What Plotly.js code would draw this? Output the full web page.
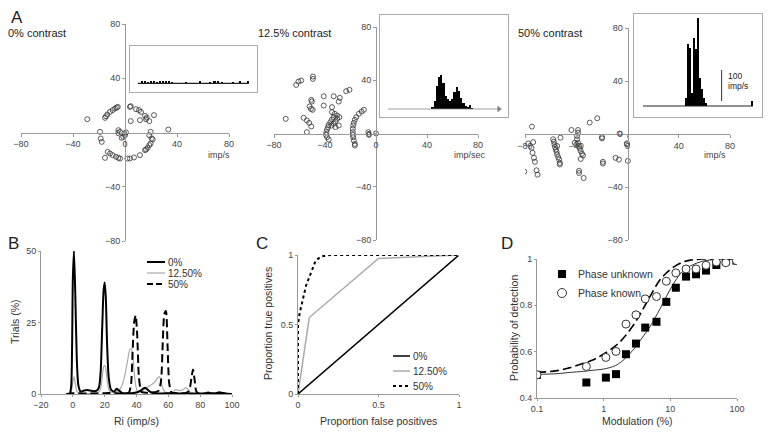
<!DOCTYPE html>
<html><head><meta charset="utf-8">
<script src="https://cdn.plot.ly/plotly-3.0.1.min.js"></script>
<style>html,body{margin:0;padding:0;background:#fff}#chart{width:769px;height:432px}</style>
</head><body><div id="chart"></div>
<script>
// ---------- DATA ----------
// Panel A scatter (imp/s)
const a1X = [-15.4,-14.6,-13.6,-11.5,-9.5,-7.7,-6.4,-5.6,-29,3.8,4.4,8.5,10.8,12.3,15.4,16.7,16.2,18.7,22.3,4.4,11.5,19.7,33.3,20.5,18.7,21.3,19.7,18.7,17.4,16.2,15.4,11.5,6.9,3.8,1.8,-13.3,-11.5,-9.5,-6.9,-5.1,-3.8,-15.4,-19.2,-18.7,-17.9,-5.1,-3.8,-0.5,-1.3,0,-2.6,0.8];
const a1Y = [10.8,12,13.3,15.2,16.5,17.7,18.4,18.9,9.8,18.9,19.4,17.2,16.5,15.2,12.3,11,9.8,8.4,12.8,8.4,9.1,0.5,2.2,-4.4,-2,-5.2,-8.1,-9.3,-11.3,-12.5,-13,-16.7,-18.4,-19.2,-19.2,-14.3,-15.5,-16.7,-17.9,-18.7,-19.2,-18.7,0.5,-4.4,-6.9,1.7,0.5,-0.7,-3.2,-2,-3.9,0];
const a2X = [-62.6,-60.8,-58.7,-49.5,-49.5,-50.8,-50.3,-52.1,-51,-49.7,-41,-33.2,-28.4,-29.2,-41,-34.5,-23.4,-20.8,-70.8,-56.8,-54.2,-52.4,-50.8,-54.2,-34.5,-32.4,-30.5,-28.7,-33.2,-34.5,-35.8,-37.1,-37.6,-38.4,-38.9,-39.2,-38.4,-37.1,-35,-33.2,-31.8,-30.5,-31.8,-29.2,-9.5,-11.3,-13.4,-15.5,-16.6,-17.4,-17.9,-18.2,-18.2,-18.2,-17.9,-17.4,-16.6,-16.6,-6,-5.5,0];
const a2Y = [36.5,39,39.8,42.8,41,25.3,24,20.3,18.5,17.8,28,28,26.8,24,21,19.8,31.8,32.8,11,11.8,9.8,8,5.3,1,16,14.8,13.5,12.3,12.3,10.5,8.5,6.5,4.8,3,1,-1,-2.8,-4.5,6,7.3,9,11,4.8,6,17.8,16.5,14.8,12.3,10.3,8,6,3.5,1,-1,-2.8,-5.3,-7.8,-9,1,-1,0];
const a3X = [-74.6,-43.8,-38.6,-29.5,-23.6,-77.5,-73.6,-74.9,-74.1,-73,-72.3,-80.6,-71,-70.2,-58,-57.5,-57,-56.5,-55.9,-55.4,-54.9,-54.1,-53.4,-52.8,-52.8,-54.9,-52.3,-39.4,-39.4,-38.6,-37.8,-37.3,-36.5,-35.5,-34.7,-39.9,-41.2,-36.5,-37.8,-37.8,-34.2,-38.6,-19.9,-19.9,-19.2,-19.2,-9.3,-6.7,-6.2,-0.5,-0.5,0.3];
const a3Y = [5.6,3,3,8.6,11.9,-7.1,-6.1,-10.4,-14.2,-18,-21,-28.4,-27.4,-30.7,-4,-5.8,-7.9,-9.9,-11.7,-13.5,-15.5,-17.5,-19.3,-21.8,-23,-9.1,-2.8,-1.5,-4,-6.6,-9.1,-10.9,-12.9,-15,-16.2,-7.9,-6.6,-18.8,-27.7,-29.4,-33.2,1,-2.3,-3.3,-21,-22.3,-18,-19.3,0.3,-7.1,-7.9,-20.3];
const aTicks = [-80,-40,0,40,80];

// Panel A insets (response histograms)
const h1Bin = [3.6,6.3,9,11.7,14.4,17,19.8,22.5,25,28,30.6,43,56,65,69,72,75.7,85.6,92,99];
const h1Cnt = [2,2,1.5,2,2,1.5,2,2,2.5,2,1.5,1.5,2,1.5,2.5,2,1.5,1.5,2,2.5];
const h2Bin = [40,42,44,46,48,50,52,54,56,58,60,62,64,66,68,70,72,74,76];
const h2Cnt = [2,8,23,32,34,26,13,10,8,10,17,22,18,11,6,3,2,4,1];
const h3Bin = [38.8,40.6,42.4,44.2,46.1,47.9,49.7,51.5,53.3,55.2,57,99];
const h3Cnt = [8,62,58,13,68,57,88,28,17,8,3,5];

// Panel B: distribution of Ri
const bX0 = [-4,-2,-1,0,0.7,1.5,2.5,3.5,5,7,9,11,13,15,16.5,17.5,18.5,19.3,20,20.7,21.5,22.5,24,26,27.5,29,31,34,37,40,42,44,45.5,47,49,52,56,60,65,70,75,80,83,85,87,90,92,94,97,100];
const bY0 = [0,0,3,40,50,36,12,3,0.8,1.2,1.4,1.2,1.0,1.2,2.5,8,24,36,39,34,18,6,1.5,0.8,1.8,1.2,0.4,0.3,0.3,0.5,1,1.8,2.2,1.5,0.6,0.3,0.2,0.3,0.2,0.2,0.2,0.2,0.3,0.5,0.3,0.3,0.6,0.4,0.1,0];
const bX1 = [-4,-2,-1,0,0.7,1.5,2.5,4,8,12,16,17.5,18.5,19.3,20,20.7,21.5,23,26,28,30,31.5,33,34.5,35.5,36.5,37.5,38.5,39.5,40.5,42,44,46,48,50,52,53.5,54.5,55.5,56.5,58,60,63,65,67,69,71,72.5,74,76,80];
const bY1 = [0,0,0.8,4,6,4,1,0.2,0.2,0.3,0.5,2,6,9.5,10,9,5,1,0.5,1,2,4,7.5,12,15,16,14,8,3,1,0.8,1.2,2,2.8,3.5,4.5,5.8,6,4.5,2,0.6,0.3,0.8,1.5,1.2,1.5,2.2,1.5,0.4,0,0];
const bX2 = [-4,0,5,10,15,20,25,30,33,35,36.5,37.5,38.5,39.5,40.5,41.5,43,45,48,51,54,55.5,56.5,57.5,58.5,59.5,60.5,62,65,68,71,72.5,73.5,74.5,75.5,76.5,77.5,79,82,90,100];
const bY2 = [0,0.3,0.2,0.2,0.2,0.3,0.3,0.2,0.2,0.3,3,14,25,27.5,20,6,0.8,0.5,0.4,0.5,1.2,5,18,28,29,17,4,0.5,0.3,0.3,0.4,0.8,2,5.5,8.6,5,1,0.2,0.1,0.1,0];
const bNames = ['0%','12.50%','50%'];

// Panel C: ROC curves
const cX0 = [0,1], cY0 = [0,1];
const cX1 = [0,0.07,0.5,1], cY1 = [0,0.55,0.975,1];
const cX2 = [0,0,0.01,0.05,0.11,0.145,0.2,1], cY2 = [0,0.5,0.58,0.78,0.96,0.99,1,1];
const cNames = ['0%','12.50%','50%'];

// Panel D: psychometric data
const dMod = [0.1,0.55,1.08,1.53,2.16,3.05,4.2,6.2,8.7,12.1,17.2,24.3,34.3,49,68,98];
const dUnknown = [0.50,0.467,0.488,0.503,0.589,0.635,0.704,0.729,0.815,0.876,0.924,0.934,0.950,0.974,0.990,0.993];
const dKnown = [0.50,0.536,0.575,0.601,0.719,0.759,0.828,0.838,0.904,0.940,0.957,0.957,0.973,0.987,0.984,0.993];
const fitX = [0.1,0.2,0.3,0.5,0.7,1,1.5,2,3,4,5,7,10,15,20,30,50,100];
const fitKnown = [0.51,0.518,0.53,0.55,0.565,0.59,0.625,0.66,0.728,0.79,0.84,0.91,0.955,0.985,0.995,1.0,1.0,1.0];
const fitUnknown = [0.502,0.505,0.51,0.515,0.52,0.525,0.54,0.565,0.62,0.67,0.71,0.785,0.87,0.945,0.97,0.99,0.998,1.0];
const dNames = ['Phase unknown','Phase known'];

// ---------- LAYOUT HELPERS ----------
const W = 769, H = 432;
const FONT = 'Liberation Sans, Arial, sans-serif';
const dx = (a,b) => [a/W, b/W];
const dy = (t,b) => [1-b/H, 1-t/H];
const px = v => v/W, py = v => 1 - v/H;
const tickFont = {family: FONT, size: 9, color: '#444'};

function crossX(l, r, zeroY) {
  return {domain: dx(l,r), range: [-80,80], anchor: 'free', position: py(zeroY),
    tickvals: aTicks, showline: true, linecolor: '#999', linewidth: 1, ticks: 'outside',
    ticklen: 3, tickcolor: '#999', showgrid: false, zeroline: false, tickfont: tickFont, fixedrange: true};
}
function crossY(t, b, zeroX) {
  return {domain: dy(t,b), range: [-80,80], anchor: 'free', position: px(zeroX),
    tickvals: aTicks, showline: true, linecolor: '#999', linewidth: 1, ticks: 'outside',
    ticklen: 3, tickcolor: '#999', showgrid: false, zeroline: false, tickfont: tickFont, fixedrange: true};
}
function boxAx(domain, range, anchor) {
  return {domain, range, anchor, showline: true, mirror: true, linecolor: '#aaa', linewidth: 1,
    ticks: '', showticklabels: false, showgrid: false, zeroline: false, fixedrange: true};
}
function stdAx(domain, anchor, extra) {
  return Object.assign({domain, anchor, showline: true, linecolor: '#999', linewidth: 1,
    ticks: 'outside', ticklen: 2, tickcolor: '#999', showgrid: false, zeroline: false,
    tickfont: tickFont, fixedrange: true}, extra);
}

const circ = {symbol: 'circle-open', size: 5, color: '#333', line: {width: 0.8, color: '#333'}};

const traces = [
  {x: a1X, y: a1Y, xaxis: 'x', yaxis: 'y', mode: 'markers', type: 'scatter', marker: circ},
  {x: a2X, y: a2Y, xaxis: 'x2', yaxis: 'y2', mode: 'markers', type: 'scatter', marker: circ},
  {x: a3X, y: a3Y, xaxis: 'x3', yaxis: 'y3', mode: 'markers', type: 'scatter', marker: circ},
  // insets
  {x: [0,100], y: [0,0], xaxis: 'x7', yaxis: 'y7', mode: 'lines', line: {color: '#222', width: 1.2}},
  {x: h1Bin, y: h1Cnt, xaxis: 'x7', yaxis: 'y7', type: 'bar', width: 2, marker: {color: '#000'}},
  {x: [0,100], y: [0,0], xaxis: 'x8', yaxis: 'y8', mode: 'lines+markers', line: {color: '#888', width: 0.8},
    marker: {symbol: 'triangle-right', size: [0,5], color: '#444'}},
  {x: h2Bin, y: h2Cnt, xaxis: 'x8', yaxis: 'y8', type: 'bar', width: 2, marker: {color: '#000'}},
  {x: [0,100], y: [0,0], xaxis: 'x9', yaxis: 'y9', mode: 'lines', line: {color: '#222', width: 1}},
  {x: h3Bin, y: h3Cnt, xaxis: 'x9', yaxis: 'y9', type: 'bar', width: 1.8, marker: {color: '#000'}},
  // B
  {x: bX1, y: bY1, name: bNames[1], xaxis: 'x4', yaxis: 'y4', mode: 'lines', line: {color: '#aaa', width: 1.2, shape: 'spline', smoothing: 0.6}},
  {x: bX2, y: bY2, name: bNames[2], xaxis: 'x4', yaxis: 'y4', mode: 'lines', line: {color: '#000', width: 2, dash: '8px,4px', shape: 'spline', smoothing: 0.6}},
  {x: bX0, y: bY0, name: bNames[0], xaxis: 'x4', yaxis: 'y4', mode: 'lines', line: {color: '#000', width: 2, shape: 'spline', smoothing: 0.6}},
  // C
  {x: cX0, y: cY0, name: cNames[0], xaxis: 'x5', yaxis: 'y5', mode: 'lines', line: {color: '#000', width: 1.5}},
  {x: cX1, y: cY1, name: cNames[1], xaxis: 'x5', yaxis: 'y5', mode: 'lines', line: {color: '#aaa', width: 1.5}},
  {x: cX2, y: cY2, name: cNames[2], xaxis: 'x5', yaxis: 'y5', mode: 'lines', line: {color: '#000', width: 2, dash: '3px,3px'}},
  // D
  {x: fitX, y: fitUnknown, xaxis: 'x6', yaxis: 'y6', mode: 'lines', line: {color: '#000', width: 0.8, shape: 'spline'}},
  {x: fitX, y: fitKnown, xaxis: 'x6', yaxis: 'y6', mode: 'lines', line: {color: '#000', width: 1.6, dash: '9px,4px', shape: 'spline'}},
  {x: dMod, y: dUnknown, name: dNames[0], xaxis: 'x6', yaxis: 'y6', mode: 'markers', marker: {symbol: 'square', size: 8, color: '#000'}},
  {x: dMod, y: dKnown, name: dNames[1], xaxis: 'x6', yaxis: 'y6', mode: 'markers', marker: {symbol: 'circle', size: 8, color: '#fff', line: {color: '#333', width: 1}}}
];

const ann = [];
function T(text, x, y, size, opts) {
  ann.push(Object.assign({text, x: px(x), y: py(y), xref: 'paper', yref: 'paper', showarrow: false,
    xanchor: 'left', yanchor: 'middle', font: {family: FONT, size, color: '#222'}}, opts || {}));
}
T('A', 9, 18, 17); T('B', 6, 244, 17); T('C', 254, 243, 17); T('D', 499, 243, 17);
T('0% contrast', 6, 33, 11); T('12.5% contrast', 256, 33, 11); T('50% contrast', 516, 33, 11);
T('imp/s', 219, 155, 9, {xanchor: 'center', font: {family: FONT, size: 9, color: '#444'}});
T('imp/sec', 470, 155, 9, {xanchor: 'center', font: {family: FONT, size: 9, color: '#444'}});
T('imp/s', 715, 155, 9, {xanchor: 'center', font: {family: FONT, size: 9, color: '#444'}});
T('100', 726, 76, 8, {font: {family: FONT, size: 8.5, color: '#222'}});
T('imp/s', 726, 86, 8, {font: {family: FONT, size: 8.5, color: '#222'}});
// axis titles
const tf = {family: FONT, size: 10.5, color: '#333'};
T('Trials (%)', 15, 322, 10, {xanchor: 'center', textangle: -90, font: tf});
T('Ri (imp/s)', 136, 421, 10, {xanchor: 'center', font: tf});
T('Proportion true positives', 268, 324, 10, {xanchor: 'center', textangle: -90, font: tf});
T('Proportion false positives', 378, 421, 10, {xanchor: 'center', font: tf});
T('Probability of detection', 514, 328, 10, {xanchor: 'center', textangle: -90, font: tf});
T('Modulation (%)', 637, 421, 10, {xanchor: 'center', font: tf});
// legends
const legB = [262, 273, 284], legC = [356, 371, 386];
const legStyles = [{color: '#000', width: 2}, {color: '#aaa', width: 1.2}, {color: '#000', width: 2, dash: '6px,3px'}];
const legStylesC = [{color: '#000', width: 1.5}, {color: '#aaa', width: 1.5}, {color: '#000', width: 2, dash: '3px,3px'}];
const shapes = [];
bNames.forEach((n, i) => {
  shapes.push({type: 'line', xref: 'paper', yref: 'paper', x0: px(147), x1: px(165), y0: py(legB[i]), y1: py(legB[i]), line: legStyles[i]});
  T(n, 166, legB[i], 10, {font: {family: FONT, size: 10, color: '#333'}});
});
cNames.forEach((n, i) => {
  shapes.push({type: 'line', xref: 'paper', yref: 'paper', x0: px(393), x1: px(410), y0: py(legC[i]), y1: py(legC[i]), line: legStylesC[i]});
  T(n, 411, legC[i], 10, {font: {family: FONT, size: 10, color: '#333'}});
});
shapes.push({type: 'rect', xref: 'paper', yref: 'paper', x0: px(558), x1: px(566), y0: py(278), y1: py(270), fillcolor: '#000', line: {width: 0}});
shapes.push({type: 'circle', xref: 'paper', yref: 'paper', x0: px(557.5), x1: px(566.5), y0: py(297.5), y1: py(288.5), line: {color: '#333', width: 1}});
T(dNames[0], 576, 274, 10.5, {font: tf});
T(dNames[1], 576, 293, 10.5, {font: tf});
// scale bar in A3 inset
shapes.push({type: 'line', xref: 'x9', yref: 'y9', x0: 71.5, x1: 71.5, y0: 5, y1: 36, line: {color: '#333', width: 1}});

const layout = {
  width: W, height: H, margin: {l: 0, r: 0, t: 0, b: 0}, paper_bgcolor: '#fff', plot_bgcolor: 'rgba(0,0,0,0)',
  showlegend: false, bargap: 0, font: {family: FONT, color: '#333'},
  xaxis: crossX(21, 229, 132.5), yaxis: crossY(24, 241, 125),
  xaxis2: crossX(274, 478, 133.5), yaxis2: crossY(27, 240, 376),
  xaxis3: crossX(525, 730, 134), yaxis3: crossY(28, 240, 627.5),
  xaxis4: stdAx(dx(41, 232), 'y4', {range: [-20, 100], tickvals: [-20,0,20,40,60,80,100]}),
  yaxis4: stdAx(dy(251, 394), 'x4', {range: [0, 50], tickvals: [0,25,50]}),
  xaxis5: stdAx(dx(298, 459), 'y5', {range: [0, 1], tickvals: [0,0.5,1]}),
  yaxis5: stdAx(dy(255, 394), 'x5', {range: [0, 1], tickvals: [0,0.5,1]}),
  xaxis6: stdAx(dx(537, 737), 'y6', {type: 'log', range: [-1, 2], tickvals: [0.1,1,10,100], ticktext: ['0.1','1','10','100']}),
  yaxis6: stdAx(dy(259, 398), 'x6', {range: [0.4, 1], tickvals: [0.4,0.6,0.8,1], ticktext: ['0.4','0.6','0.8','1']}),
  xaxis7: boxAx(dx(130, 257), [-7.2, 107.2], 'y7'), yaxis7: boxAx(dy(46, 92), [-8.7, 37.3], 'x7'),
  xaxis8: boxAx(dx(380, 508), [-7.2, 108.1], 'y8'), yaxis8: boxAx(dy(15, 117), [-8, 94], 'x8'),
  xaxis9: boxAx(dx(634, 762), [-8.2, 108.2], 'y9'), yaxis9: boxAx(dy(14, 117), [-11, 92], 'x9'),
  annotations: ann, shapes: shapes
};
Plotly.newPlot('chart', traces, layout, {staticPlot: true, displayModeBar: false});
</script></body></html>
